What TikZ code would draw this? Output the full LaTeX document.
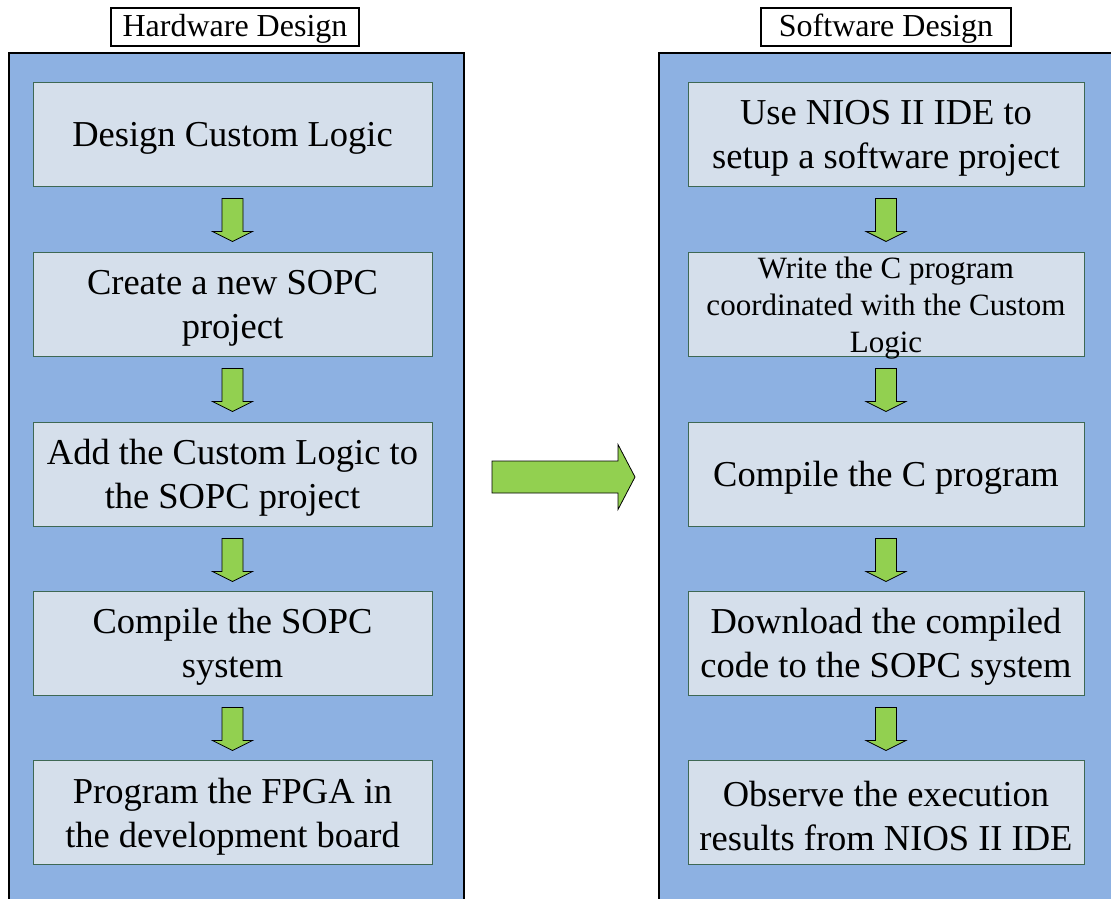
\documentclass[tikz,border=0pt]{standalone}
\usepackage{fontspec}
\setmainfont{Liberation Serif}
\usetikzlibrary{calc}
\definecolor{panelblue}{RGB}{141,177,226}
\definecolor{boxfill}{RGB}{213,223,235}
\definecolor{boxline}{RGB}{62,104,84}
\definecolor{arrowgreen}{RGB}{146,208,80}
\tikzset{
  panel/.style={draw=black, line width=2pt, fill=panelblue, anchor=north west,
    inner sep=0pt, minimum height=900pt},
  stepbox/.style={draw=boxline, line width=0.9pt, fill=boxfill,
    minimum height=104pt, inner sep=0pt},
  steptext/.style={align=center, inner sep=0pt, font=\fontsize{36.5}{44}\selectfont},
  smalltext/.style={font=\fontsize{31}{37}\selectfont},
  titlebox/.style={draw=black, line width=1.2pt, fill=white,
    minimum height=38pt, inner sep=0pt, text height=27pt, text depth=7pt,
    font=\fontsize{32}{38}\selectfont},
  greenarrow/.style={draw=black, line width=0.8pt, fill=arrowgreen, line join=miter},
}
% downward block arrow placed under a step box
\newcommand\flowarrow[1]{%
  \draw[greenarrow] ([yshift=-12pt]#1.south) ++(-10.5,0) -- ++(21,0) -- ++(0,33)
    -- ++(9.5,0) -- ++(-20,10) -- ++(-20,-10) -- ++(9.5,0) -- cycle;}
% a step: its box, and its text set a little below the box centre
\newcommand\flowstep[4][]{%
  \node[stepbox, minimum width=#3] (#2) at (#4) {};
  \node[steptext, #1] (#2t) at ([yshift=-4pt]#2.center)}
\begin{document}
\begin{tikzpicture}[x=1pt,y=-1pt]
\useasboundingbox (0,0) rectangle (1111,899);
\clip (0,0) rectangle (1111,899);
\fill[white] (0,0) rectangle (1111,899);

% the two columns
\node[panel, minimum width=455pt] (hwpanel) at (8,52) {};
\node[panel, minimum width=480pt] (swpanel) at (658,52) {};

\node[titlebox, minimum width=248pt] (hwtitle) at (235,27) {Hardware Design};
\node[titlebox, minimum width=250pt] (swtitle) at (886,27) {Software Design};

% hardware steps
\flowstep{h1}{399pt}{232.5,134}   {Design Custom Logic};
\flowstep{h2}{399pt}{232.5,304}   {Create a new SOPC\\project};
\flowstep{h3}{399pt}{232.5,474}   {Add the Custom Logic to\\the SOPC project};
\flowstep{h4}{399pt}{232.5,643}   {Compile the SOPC\\system};
\flowstep{h5}{399pt}{232.5,812.5} {Program the FPGA in\\the development board};

% software steps
\flowstep{s1}{396pt}{886,134}   {Use NIOS II IDE to\\setup a software project};
\flowstep[smalltext]{s2}{396pt}{886,304} {Write the C program\\coordinated with the Custom\\Logic};
\flowstep{s3}{396pt}{886,474}   {Compile the C program};
\flowstep{s4}{396pt}{886,643}   {Download the compiled\\code to the SOPC system};
\flowstep{s5}{396pt}{886,812.5} {Observe the execution\\results from NIOS II IDE};

\foreach \n in {h1,h2,h3,h4,s1,s2,s3,s4} {\flowarrow{\n}}

% hand-over arrow between the columns
\coordinate (bt) at ($(hwpanel.east |- h3)+(27,3)$);
\draw[greenarrow] (bt) ++(0,-16) -- ++(126,0) -- ++(0,-16.5) -- ++(17,32.5)
  -- ++(-17,32.5) -- ++(0,-16.5) -- ++(-126,0) -- cycle;
\end{tikzpicture}
\end{document}
